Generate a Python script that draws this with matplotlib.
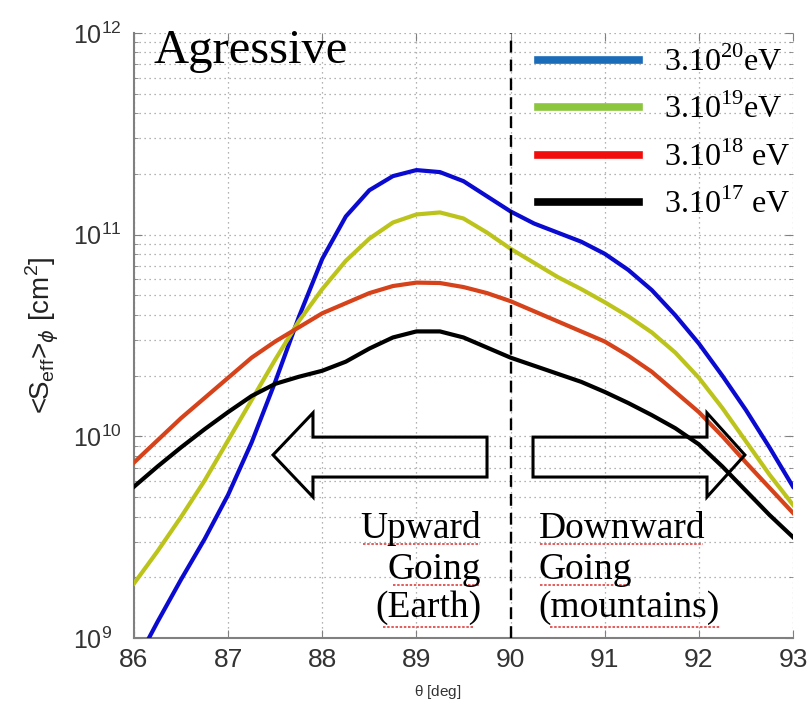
import numpy as np
import matplotlib.pyplot as plt
from matplotlib.lines import Line2D
from matplotlib.patches import Polygon

plt.rcParams['font.family'] = 'Liberation Sans'

# angle theta [deg]
theta = [86.0, 86.25, 86.5, 86.75, 87.0, 87.25, 87.5, 87.75, 88.0, 88.25,
         88.5, 88.75, 89.0, 89.25, 89.5, 89.75, 90.0, 90.25, 90.5, 90.75,
         91.0, 91.25, 91.5, 91.75, 92.0, 92.25, 92.5, 92.75, 93.0]

# log10 of <S_eff>_phi [cm^2]
log_s_3e20 = [8.86, 9.08, 9.29, 9.49, 9.71, 9.97, 10.27, 10.59, 10.88, 11.09,
              11.22, 11.29, 11.32, 11.31, 11.265, 11.19, 11.115, 11.055, 11.01, 10.965,
              10.905, 10.825, 10.725, 10.60, 10.46, 10.30, 10.13, 9.945, 9.75]
log_s_3e19 = [9.27, 9.43, 9.60, 9.78, 9.98, 10.18, 10.38, 10.57, 10.73, 10.87,
              10.98, 11.06, 11.10, 11.11, 11.08, 11.01, 10.93, 10.86, 10.79, 10.73,
              10.665, 10.595, 10.515, 10.415, 10.29, 10.14, 9.975, 9.81, 9.66]
log_s_3e18 = [9.87, 9.98, 10.09, 10.19, 10.29, 10.39, 10.47, 10.54, 10.61, 10.66,
              10.71, 10.745, 10.762, 10.76, 10.74, 10.71, 10.67, 10.62, 10.57, 10.52,
              10.47, 10.40, 10.32, 10.22, 10.12, 10.00, 9.87, 9.745, 9.62]
log_s_3e17 = [9.75, 9.85, 9.945, 10.035, 10.12, 10.20, 10.26, 10.295, 10.325, 10.37,
              10.435, 10.49, 10.52, 10.52, 10.49, 10.44, 10.39, 10.35, 10.31, 10.27,
              10.22, 10.165, 10.105, 10.04, 9.96, 9.85, 9.73, 9.61, 9.50]

series = [log_s_3e20, log_s_3e19, log_s_3e18, log_s_3e17]
curve_colors = ['#0a0ad0', '#bcc41c', '#d6421a', '#000000']
legend_colors = ['#1a6bb8', '#8cc63f', '#f20d0d', '#000000']
legend_labels = ['3.10$^{\\mathdefault{20}}$eV', '3.10$^{\\mathdefault{19}}$eV',
                 '3.10$^{\\mathdefault{18}}$ eV', '3.10$^{\\mathdefault{17}}$ eV']

fig = plt.figure(figsize=(8.11, 7.04), dpi=100)
ax = fig.add_axes([0.1652, 0.0938, 0.8126, 0.8594])

for log_s, c in zip(series, curve_colors):
    ax.plot(theta, 10 ** np.array(log_s), color=c, lw=3, zorder=3,
            solid_joinstyle='round')

ax.set_yscale('log')
ax.set_xlim(86, 93)
ax.set_ylim(1e9, 1e12)
ax.set_xticks([86, 87, 88, 89, 90, 91, 92, 93])
ax.set_yticks([1e9, 1e10, 1e11, 1e12])

# matlab-like dotted grid
ax.grid(True, which='major', ls=(0, (1, 3)), color='#9a9a9a', lw=0.9)
ax.grid(True, which='minor', axis='y', ls=(0, (1, 3)), color='#9a9a9a', lw=0.9)

ax.axvline(90, color='k', ls=(0, (5, 3)), lw=1.7, zorder=4)

for s in ['top', 'right']:
    ax.spines[s].set_visible(False)
for s in ['left', 'bottom']:
    ax.spines[s].set_color('#808080')
    ax.spines[s].set_linewidth(1.5)

ax.tick_params(which='both', direction='in', top=True, right=True, color='#808080')
ax.tick_params(which='major', length=6)
ax.tick_params(which='minor', length=3)
ax.tick_params(axis='x', labelsize=19, pad=7, labelcolor='#333333')
ax.tick_params(axis='y', labelsize=18, pad=44, labelcolor='#333333')
plt.setp(ax.get_yticklabels(), ha='left')

ax.set_xlabel(r'$\mathdefault{\theta}$ [deg]', fontsize=11, color='#333333')
ax.xaxis.set_label_coords(0.461, -0.075)
ax.set_ylabel(r'<S$_{\mathdefault{eff}}$>$_{\phi}$ [cm$^{\mathdefault{2}}$]',
              fontsize=20, color='#222222')
ax.yaxis.set_label_coords(-0.11, 0.5)

# hollow block arrows
left_arrow = [(0.211, 0.3025), (0.2716, 0.372), (0.2716, 0.332), (0.5357, 0.332),
              (0.5357, 0.266), (0.2716, 0.266), (0.2716, 0.233)]
right_arrow = [(0.927, 0.3025), (0.8695, 0.372), (0.8695, 0.332), (0.6055, 0.332),
               (0.6055, 0.266), (0.8695, 0.266), (0.8695, 0.233)]
for pts in [left_arrow, right_arrow]:
    ax.add_patch(Polygon(pts, closed=True, fill=False, ec='k', lw=2.2,
                         joinstyle='miter', transform=ax.transAxes, zorder=5))

serif = 'Liberation Serif'
ax.text(0.029, 0.950, 'Agressive', family=serif, fontsize=35,
        transform=ax.transAxes, va='baseline', ha='left')

line_y = [0.165, 0.097, 0.035]
for word, y in zip(['Upward', 'Going', '(Earth)'], line_y):
    ax.text(0.527, y, word, family=serif, fontsize=27, transform=ax.transAxes,
            va='baseline', ha='right')
for word, y in zip(['Downward', 'Going', '(mountains)'], line_y):
    ax.text(0.614, y, word, family=serif, fontsize=27, transform=ax.transAxes,
            va='baseline', ha='left')

# spell-check underlines
squiggles = [(0.348, 0.525, 0.155), (0.393, 0.525, 0.087), (0.378, 0.515, 0.018),
             (0.616, 0.863, 0.155), (0.616, 0.753, 0.087), (0.631, 0.889, 0.018)]
for x0, x1, y in squiggles:
    ax.plot([x0, x1], [y, y], color='#e04040', lw=1.2, ls=(0, (1.5, 1)),
            transform=ax.transAxes, zorder=2)

handles = [Line2D([], [], color=c, lw=5.5) for c in legend_colors]
ax.legend(handles, legend_labels, loc='upper left', bbox_to_anchor=(0.613, 0.977),
          frameon=False, prop={'family': serif, 'size': 23}, handlelength=3.15,
          handletextpad=0.8, labelspacing=0.5, borderpad=0, borderaxespad=0)

fig.savefig('out.png', dpi=100)
